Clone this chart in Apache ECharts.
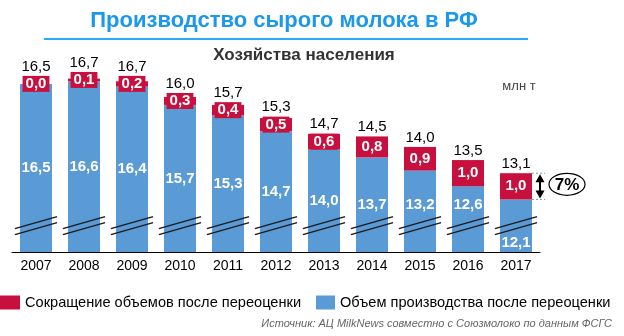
<!DOCTYPE html>
<html>
<head>
<meta charset="utf-8">
<script src="https://cdn.jsdelivr.net/npm/echarts@6/dist/echarts.min.js"></script>
<style>
html,body{margin:0;padding:0;background:#fff;}
#chart{width:624px;height:336px;}
</style>
</head>
<body>
<div id="chart"></div>
<script>
const years = ['2007','2008','2009','2010','2011','2012','2013','2014','2015','2016','2017'];
const afterRevaluation = [16.5,16.6,16.4,15.7,15.3,14.7,14.0,13.7,13.2,12.6,12.1];
const reduction = [0.0,0.1,0.2,0.3,0.4,0.5,0.6,0.8,0.9,1.0,1.0];
const beforeRevaluation = [16.5,16.7,16.7,16.0,15.7,15.3,14.7,14.5,14.0,13.5,13.1];
const reductionShareLabel = '7%';
const breakValue = 11.1;

const redName = 'Сокращение объемов после переоценки';
const blueName = 'Объем производства после переоценки';
const FONT = 'Liberation Sans, Arial, sans-serif';
const BLUE = '#5b9bd5';
const RED = '#c8103e';
const fmt = v => v.toFixed(1).replace('.', ',');

const last = years.length - 1;

const totalData = years.map((y, i) => [i, afterRevaluation[i], reduction[i], beforeRevaluation[i]]);
const blueLabelData = years.map((y, i) => [i, afterRevaluation[i]]);
const breakData = years.map((y, i) => [i, breakValue]);
const annotData = [[last, afterRevaluation[last], reduction[last]]];

const txt = (text, x, y, font, fill, align, valign) => ({
  text, x, y, font, fill, align, verticalAlign: valign, textAlign: align, textVerticalAlign: valign
});

const chart = echarts.init(document.getElementById('chart'), null, { renderer: 'canvas' });
chart.setOption({
  animation: false,
  textStyle: { fontFamily: FONT },
  grid: { left: 12, right: 84, top: 55, bottom: 84 },
  xAxis: {
    type: 'category',
    data: years,
    axisLine: { lineStyle: { color: '#000', width: 1 } },
    axisTick: { show: false },
    axisLabel: { color: '#000', fontSize: 14, margin: 7, fontFamily: FONT }
  },
  yAxis: {
    type: 'value', min: 10.1, max: 17.6, show: false,
    splitLine: { show: false }
  },
  legend: [
    {
      left: 0, top: 295, padding: 0, itemWidth: 20, itemHeight: 14, icon: 'rect',
      textStyle: { fontSize: 14.6, color: '#000', fontFamily: FONT },
      data: [redName]
    },
    {
      left: 316, top: 295, padding: 0, itemWidth: 19, itemHeight: 14, icon: 'rect',
      textStyle: { fontSize: 14.6, color: '#000', fontFamily: FONT },
      data: [blueName]
    }
  ],
  graphic: [
    { type: 'text', x: 284, y: 21, style: txt('Производство сырого молока в РФ', 0, 0, 'bold 22px ' + FONT, '#1a98ee', 'center', 'middle') },
    { type: 'line', shape: { x1: 44, y1: 39, x2: 528, y2: 39 }, style: { stroke: '#29aaf4', lineWidth: 2 } },
    { type: 'text', x: 304, y: 55, style: txt('Хозяйства населения', 0, 0, 'bold 17px ' + FONT, '#333', 'center', 'middle') },
    { type: 'text', x: 519, y: 86, style: txt('млн т', 0, 0, '13px ' + FONT, '#444', 'center', 'middle') },
    { type: 'text', x: 612, y: 324, style: txt('Источник: АЦ MilkNews совместно с Союзмолоко по данным ФСГС', 0, 0, 'italic 11px ' + FONT, '#666', 'right', 'middle') }
  ],
  series: [
    {
      name: blueName, type: 'bar', stack: 'a', barWidth: 32,
      itemStyle: { color: BLUE },
      data: afterRevaluation
    },
    {
      name: redName, type: 'bar', stack: 'a', barWidth: 32,
      itemStyle: { color: RED },
      label: { show: true, position: 'inside', color: '#fff', fontWeight: 'bold', fontSize: 15, fontFamily: FONT,
        backgroundColor: RED, padding: [1, 3, 1, 3], lineHeight: 14,
        formatter: p => fmt(p.value) },
      data: reduction
    },
    {
      type: 'custom', silent: true, z: 5,
      renderItem: function (params, api) {
        const i = api.value(0), b = api.value(1);
        const x = api.coord([i, b])[0];
        const top = api.coord([i, b])[1];
        const base = api.coord([i, 10.1])[1];
        const limit = api.coord([i, breakValue + 0.8])[1];
        let y = (top + base) / 2;
        if (y > limit) {
          y = (limit - top >= 15) ? limit : base - 9;
        }
        return { type: 'text', style: txt(fmt(b), x, y, 'bold 15px ' + FONT, '#fff', 'center', 'middle') };
      },
      data: blueLabelData
    },
    {
      type: 'custom', silent: true, z: 5,
      renderItem: function (params, api) {
        const i = api.value(0), b = api.value(1), r = api.value(2), t = api.value(3);
        const top = api.coord([i, b + r])[1];
        const mid = api.coord([i, b + r / 2])[1];
        const boxTop = Math.min(top, mid - 8);
        const x = api.coord([i, b])[0];
        return { type: 'text', style: txt(fmt(t), x, boxTop - 2, '15px ' + FONT, '#000', 'center', 'bottom') };
      },
      data: totalData
    },
    {
      type: 'custom', silent: true, z: 4,
      renderItem: function (params, api) {
        const c = api.coord([api.value(0), api.value(1)]);
        const half = api.size([1, 0])[0] * 0.44;
        const st = { stroke: '#1a1a1a', lineWidth: 1.3 };
        return { type: 'group', children: [
          { type: 'line', shape: { x1: c[0] - half, y1: c[1] + 3, x2: c[0] + half, y2: c[1] - 9 }, style: st },
          { type: 'line', shape: { x1: c[0] - half, y1: c[1] + 9, x2: c[0] + half, y2: c[1] - 3 }, style: st }
        ] };
      },
      data: breakData
    },
    {
      type: 'custom', silent: true, z: 6,
      renderItem: function (params, api) {
        const i = api.value(0), b = api.value(1), r = api.value(2);
        const x = api.coord([i, b])[0];
        const yTop = api.coord([i, b + r])[1];
        const yBot = api.coord([i, b])[1];
        const right = x + 16, ax = x + 24;
        const dash = { stroke: '#999', lineWidth: 1, lineDash: [2, 2] };
        const midY = (yTop + yBot) / 2;
        return { type: 'group', children: [
          { type: 'line', shape: { x1: right, y1: yTop, x2: ax + 5, y2: yTop }, style: dash },
          { type: 'line', shape: { x1: right, y1: yBot, x2: ax + 5, y2: yBot }, style: dash },
          { type: 'line', shape: { x1: ax, y1: yTop + 6, x2: ax, y2: yBot - 6 }, style: { stroke: '#000', lineWidth: 2 } },
          { type: 'polygon', shape: { points: [[ax - 4.5, yTop + 9], [ax + 4.5, yTop + 9], [ax, yTop + 1]] }, style: { fill: '#000' } },
          { type: 'polygon', shape: { points: [[ax - 4.5, yBot - 9], [ax + 4.5, yBot - 9], [ax, yBot - 1]] }, style: { fill: '#000' } },
          { type: 'ellipse', shape: { cx: x + 51, cy: midY - 2, rx: 18, ry: 11 }, style: { fill: '#fff', stroke: '#000', lineWidth: 1.2 } },
          { type: 'text', style: txt(reductionShareLabel, x + 51, midY - 1, 'bold 17px ' + FONT, '#000', 'center', 'middle') }
        ] };
      },
      data: annotData
    }
  ]
});
</script>
</body>
</html>
